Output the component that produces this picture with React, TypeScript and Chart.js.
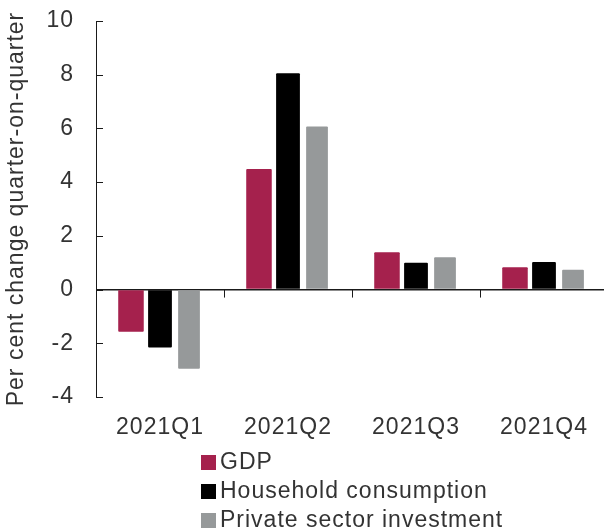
import React, { useEffect, useRef } from 'react';
import { Chart, registerables } from 'chart.js';

Chart.register(...registerables);

const categories = ['2021Q1', '2021Q2', '2021Q3', '2021Q4'];
const gdp = [-1.57, 4.49, 1.39, 0.83];
const household = [-2.16, 8.05, 1.0, 1.03];
const investment = [-2.95, 6.07, 1.2, 0.74];
const seriesNames = ['GDP', 'Household consumption', 'Private sector investment'];
const seriesColors = ['#a5214d', '#000000', '#96999a'];
const yMin = -4;
const yMax = 10;
const yStep = 2;
const yTitle = 'Per cent change quarter-on-quarter';

const FONT_FAMILY = '"Liberation Sans", Arial, Helvetica, sans-serif';
const TEXT_COLOR = '#333333';
const AXIS_COLOR = '#1a1a1a';

const setSpacing = (c: any) => {
  try {
    c.ctx.letterSpacing = '1px';
  } catch (e) {}
};

const spacingPlugin = {
  id: 'spacing',
  beforeInit: setSpacing,
  beforeUpdate: setSpacing,
  beforeLayout: setSpacing,
  beforeDraw: setSpacing,
};

const extrasPlugin = {
  id: 'extras',
  afterDatasetsDraw(chart: any) {
    const { ctx, chartArea, scales } = chart;
    const y = scales.y;
    const x = scales.x;
    ctx.save();
    ctx.strokeStyle = AXIS_COLOR;
    ctx.lineWidth = 1;
    // inward y ticks
    y.ticks.forEach((t: any) => {
      const py = Math.round(y.getPixelForValue(t.value)) + 0.5;
      ctx.beginPath();
      ctx.moveTo(chartArea.left, py);
      ctx.lineTo(chartArea.left + 7, py);
      ctx.stroke();
    });
    // category separators at zero line
    const zy = y.getPixelForValue(0);
    for (let i = 1; i < categories.length; i++) {
      const px = Math.round((x.getPixelForValue(i - 1) + x.getPixelForValue(i)) / 2) + 0.5;
      ctx.beginPath();
      ctx.moveTo(px, zy);
      ctx.lineTo(px, zy + 8);
      ctx.stroke();
    }
    ctx.restore();
  },
  afterDraw(chart: any) {
    const { ctx } = chart;
    ctx.save();
    try {
      ctx.letterSpacing = '1px';
    } catch (e) {}
    const rowsY = [462.5, 491.5, 520.5];
    chart.data.datasets.forEach((ds: any, i: number) => {
      const cy = rowsY[i];
      ctx.fillStyle = ds.backgroundColor;
      ctx.fillRect(201, cy - 7.5, 15, 15);
      ctx.fillStyle = TEXT_COLOR;
      ctx.font = `23px ${FONT_FAMILY}`;
      ctx.textAlign = 'left';
      ctx.textBaseline = 'middle';
      ctx.fillText(ds.label, 220, cy);
    });
    ctx.restore();
  },
};

export default function App() {
  const canvasRef = useRef<HTMLCanvasElement | null>(null);

  useEffect(() => {
    const canvas = canvasRef.current;
    if (!canvas) return;
    const font = { family: FONT_FAMILY, size: 23 };
    const barPcts = [0.88, 0.82, 0.75];
    const chart = new Chart(canvas, {
      type: 'bar',
      data: {
        labels: categories,
        datasets: [gdp, household, investment].map((d, i) => ({
          label: seriesNames[i],
          data: d,
          backgroundColor: seriesColors[i],
          borderWidth: 0,
          borderRadius: 1,
          categoryPercentage: 0.68,
          barPercentage: barPcts[i],
        })),
      },
      options: {
        responsive: false,
        animation: false,
        devicePixelRatio: 1,
        layout: { padding: { top: 21, right: 0, bottom: 84, left: 0 } },
        plugins: {
          legend: { display: false },
          tooltip: { enabled: false },
          title: { display: false },
        },
        scales: {
          x: {
            grid: { display: false, drawTicks: false },
            border: { display: false },
            ticks: { padding: 17, color: TEXT_COLOR, font, maxRotation: 0 },
            afterFit: (s: any) => {
              s.height = 50;
              s.paddingLeft = 0;
              s.paddingRight = 0;
            },
          },
          y: {
            min: yMin,
            max: yMax,
            ticks: { stepSize: yStep, padding: 22, color: TEXT_COLOR, font },
            grid: {
              drawTicks: false,
              color: (c: any) => (c.tick && c.tick.value === 0 ? AXIS_COLOR : 'rgba(0,0,0,0)'),
              lineWidth: (c: any) => (c.tick && c.tick.value === 0 ? 1.5 : 0),
            },
            border: { display: true, color: AXIS_COLOR, width: 1 },
            title: {
              display: true,
              text: yTitle,
              color: TEXT_COLOR,
              font,
              padding: { top: 3, bottom: 0 },
            },
            afterFit: (s: any) => {
              s.width = 96;
              s.paddingTop = 0;
              s.paddingBottom = 0;
            },
          },
        },
      } as any,
      plugins: [spacingPlugin, extrasPlugin],
    });
    return () => chart.destroy();
  }, []);

  return (
    <div
      style={{
        position: 'fixed',
        left: 0,
        top: 0,
        width: 604,
        height: 531,
        overflow: 'hidden',
        background: '#ffffff',
      }}
    >
      <canvas ref={canvasRef} width={608} height={531} style={{ width: 608, height: 531, display: 'block' }} />
    </div>
  );
}
